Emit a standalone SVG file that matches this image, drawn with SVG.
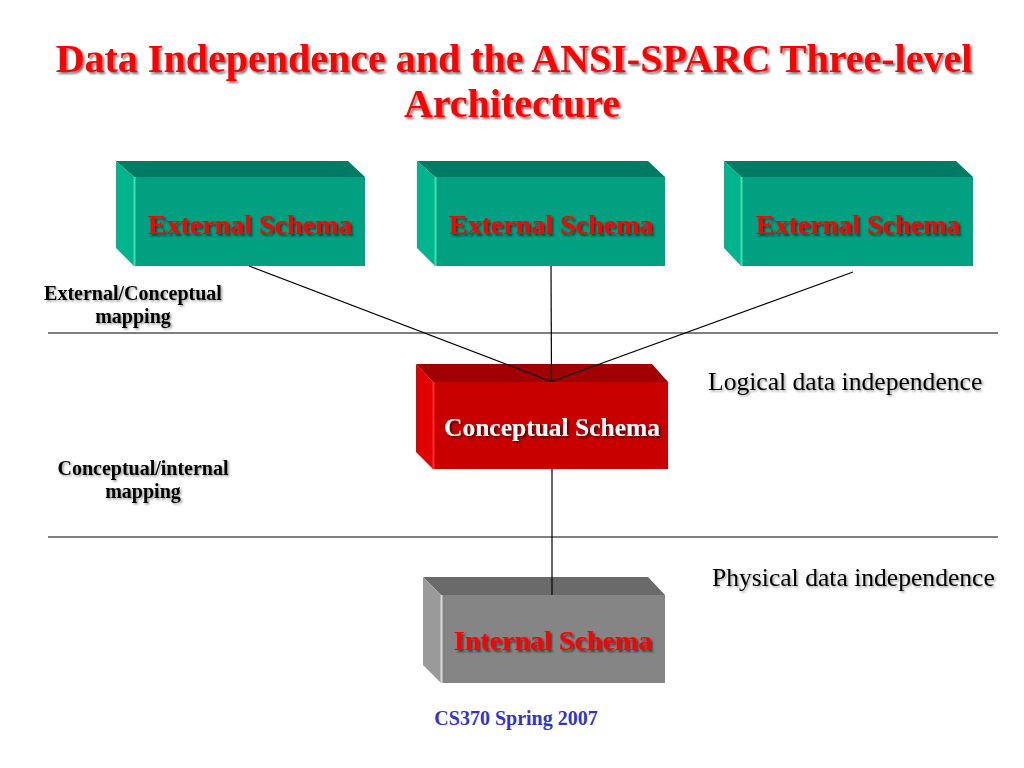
<svg xmlns="http://www.w3.org/2000/svg" width="1024" height="768" viewBox="0 0 1024 768">
<defs>
<filter id="sh" x="-10%" y="-30%" width="120%" height="160%">
<feDropShadow dx="2" dy="2" stdDeviation="1" flood-color="#000" flood-opacity="0.55"/>
</filter>
<filter id="shl" x="-10%" y="-30%" width="120%" height="160%">
<feDropShadow dx="1.5" dy="1.5" stdDeviation="1" flood-color="#000" flood-opacity="0.4"/>
</filter>
</defs>
<style>
.title{font-family:"Liberation Serif","Times New Roman",serif;font-weight:bold;font-size:40px;fill:#ff0000;text-anchor:middle}
.box{font-family:"Liberation Serif","Times New Roman",serif;font-weight:bold;font-size:28px;text-anchor:middle}
.red{fill:#ff0000}
.white{fill:#ffffff;font-size:25.5px}
.map{font-family:"Liberation Serif","Times New Roman",serif;font-weight:bold;font-size:20px;fill:#000;text-anchor:middle}
.ind{font-family:"Liberation Serif","Times New Roman",serif;font-size:25.6px;fill:#000}
.foot{font-family:"Liberation Serif","Times New Roman",serif;font-weight:bold;font-size:20px;fill:#3333cc;text-anchor:middle}
.sep{stroke:#555;stroke-width:1.3;fill:none}
.conn{stroke:#000;stroke-width:1.2;fill:none}
.gtop{fill:#007a62}.gfront{fill:#00a080}.gleft{fill:#00b48e}.ghl{stroke:#40e0b0;stroke-width:2}
.rtop{fill:#a00000}.rfront{fill:#c80000}.rleft{fill:#e00000}.rhl{stroke:#ff3030;stroke-width:2}
.ytop{fill:#6a6a6a}.yfront{fill:#858585}.yleft{fill:#9a9a9a}.yhl{stroke:#d8d8d8;stroke-width:2}
</style>
<rect width="1024" height="768" fill="#ffffff"/>
<g id="title" filter="url(#sh)">
<text class="title" x="514" y="72">Data Independence and the ANSI-SPARC Three-level</text>
<text class="title" x="512" y="117">Architecture</text>
</g>
<g id="separators">
<line class="sep" x1="48" y1="333" x2="998" y2="333"/>
<line class="sep" x1="48" y1="537" x2="998" y2="537"/>
</g>
<g id="ext1">
<polygon class="gtop" points="116,161 348,161 365,177 134,177"/>
<polygon class="gleft" points="116,161 134,177 134,266 116,248"/>
<rect class="gfront" x="134" y="177" width="231" height="89"/>
<line class="ghl" x1="134.5" y1="177" x2="134.5" y2="266"/>
<text class="box red" x="250" y="234" filter="url(#sh)">External Schema</text>
</g>
<g id="ext2">
<polygon class="gtop" points="417,161 648,161 665,177 435,177"/>
<polygon class="gleft" points="417,161 435,177 435,266 417,248"/>
<rect class="gfront" x="435" y="177" width="230" height="89"/>
<line class="ghl" x1="435.5" y1="177" x2="435.5" y2="266"/>
<text class="box red" x="551" y="234" filter="url(#sh)">External Schema</text>
</g>
<g id="ext3">
<polygon class="gtop" points="724,161 956,161 973,177 741,177"/>
<polygon class="gleft" points="724,161 741,177 741,266 724,248"/>
<rect class="gfront" x="741" y="177" width="232" height="89"/>
<line class="ghl" x1="741.5" y1="177" x2="741.5" y2="266"/>
<text class="box red" x="858" y="234" filter="url(#sh)">External Schema</text>
</g>
<g id="conceptual">
<polygon class="rtop" points="416,364 652,364 668,382 433,382"/>
<polygon class="rleft" points="416,364 433,382 433,469 416,452"/>
<rect class="rfront" x="433" y="382" width="235" height="87"/>
<line class="rhl" x1="433.5" y1="382" x2="433.5" y2="469"/>
<text class="box white" x="552" y="436" filter="url(#sh)">Conceptual Schema</text>
</g>
<g id="internal">
<polygon class="ytop" points="423,577 648,577 665,595 441,595"/>
<polygon class="yleft" points="423,577 441,595 441,683 423,665"/>
<rect class="yfront" x="441" y="595" width="224" height="88"/>
<line class="yhl" x1="441.5" y1="595" x2="441.5" y2="683"/>
<text class="box red" x="553" y="650" filter="url(#sh)">Internal Schema</text>
</g>
<g id="connectors">
<line class="conn" x1="249" y1="266" x2="551.5" y2="381.5"/>
<line class="conn" x1="551" y1="266" x2="551.5" y2="381.5"/>
<line class="conn" x1="853" y1="272" x2="551.5" y2="381.5"/>
<line class="conn" x1="552" y1="469" x2="552" y2="595"/>
</g>
<g id="labels">
<g filter="url(#shl)">
<text class="map" x="133" y="300">External/Conceptual</text>
<text class="map" x="133" y="323">mapping</text>
<text class="map" x="143" y="475">Conceptual/internal</text>
<text class="map" x="143" y="498">mapping</text>
<text class="ind" x="708" y="390">Logical data independence</text>
<text class="ind" x="712" y="586">Physical data independence</text>
</g>
<text class="foot" x="516" y="725">CS370 Spring 2007</text>
</g>
</svg>
